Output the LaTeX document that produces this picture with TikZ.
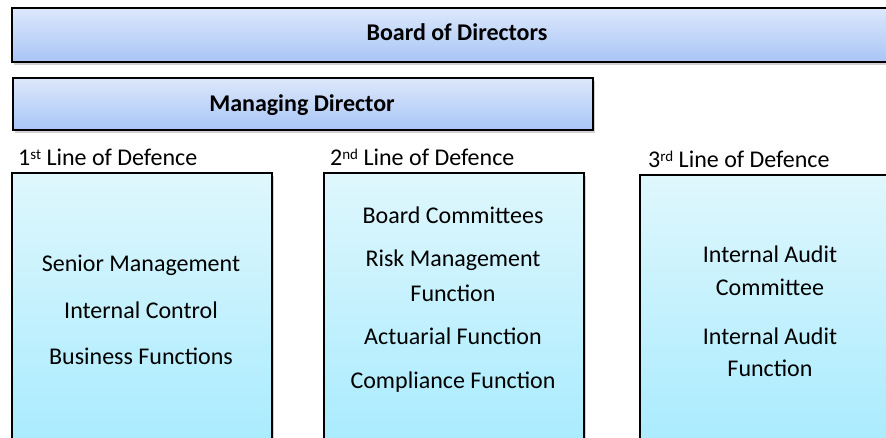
\documentclass[tikz,border=0pt]{standalone}
\usepackage{fontspec}
\setmainfont{Carlito}
\usetikzlibrary{shadows}
\definecolor{bluetop}{HTML}{DDE8FB}
\definecolor{bluebot}{HTML}{A8C5F6}
\definecolor{cyantop}{HTML}{DFF7FD}
\definecolor{cyanbot}{HTML}{A3EAFE}
\newcommand\mysup[1]{\raisebox{5.5pt}{\fontsize{15}{15}\selectfont #1}}
\tikzset{
  bar/.style={draw=black, line width=1.8pt, top color=bluetop, bottom color=bluebot,
    anchor=north west, inner sep=0pt,
    drop shadow={shadow xshift=2pt, shadow yshift=-3pt, opacity=0.3, fill=black!60}},
  linebox/.style={draw=black, line width=1.5pt, top color=cyantop, bottom color=cyanbot,
    anchor=north west, inner sep=0pt,
    drop shadow={shadow xshift=2pt, shadow yshift=-3pt, opacity=0.3, fill=black!60}},
  txt/.style={font=\fontsize{24}{28}\selectfont, inner sep=0pt, anchor=base},
  btxt/.style={font=\fontsize{24}{28}\selectfont\bfseries, inner sep=0pt, anchor=base},
  lbl/.style={font=\fontsize{24}{28}\selectfont, inner sep=0pt, anchor=base west},
}
\begin{document}
\begin{tikzpicture}[x=1pt, y=-1pt]
\useasboundingbox (0,0) rectangle (886,437);
\clip (0,0) rectangle (886,437);
% top bars
\node[bar, minimum width=892pt, minimum height=54pt] (board) at (11,7) {};
\node[btxt] (boardt) at (457,40) {Board of Directors};
\node[bar, minimum width=580pt, minimum height=52pt] (md) at (12,77) {};
\node[btxt] (mdt) at (302,111) {Managing Director};
% labels
\node[lbl] (l1) at (18,165) {1\mysup{st} Line of Defence};
\node[lbl] (l2) at (330,165) {2\mysup{nd} Line of Defence};
\node[lbl] (l3) at (648,167) {3\mysup{rd} Line of Defence};
% boxes
\node[linebox, minimum width=260pt, minimum height=300pt] (b1) at (11,172) {};
\node[linebox, minimum width=260pt, minimum height=300pt] (b2) at (323,172) {};
\node[linebox, minimum width=262pt, minimum height=300pt] (b3) at (639,174) {};
% box 1 text
\node[txt] (t11) at (141,271) {Senior Management};
\node[txt] (t12) at (141,318) {Internal Control};
\node[txt] (t13) at (141,364) {Business Functions};
% box 2 text
\node[txt] (t21) at (453,223) {Board Committees};
\node[txt] (t22) at (453,266) {Risk Management};
\node[txt] (t23) at (453,301) {Function};
\node[txt] (t24) at (453,344) {Actuarial Function};
\node[txt] (t25) at (453,388) {Compliance Function};
% box 3 text
\node[txt] (t31) at (770,262) {Internal Audit};
\node[txt] (t32) at (770,295) {Committee};
\node[txt] (t33) at (770,344) {Internal Audit};
\node[txt] (t34) at (770,376) {Function};
\end{tikzpicture}
\end{document}
